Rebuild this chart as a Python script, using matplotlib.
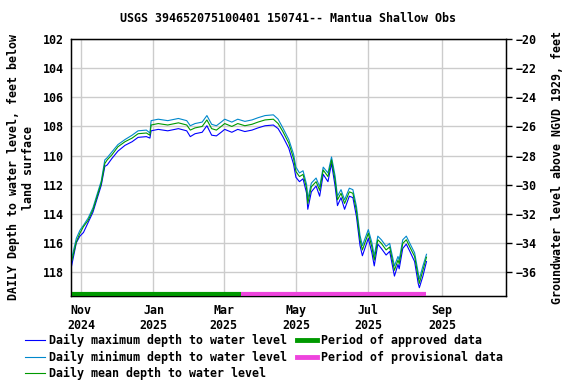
import matplotlib
matplotlib.use("Agg")
import matplotlib.pyplot as plt
import matplotlib.dates as mdates
from matplotlib.lines import Line2D
import pandas as pd

# 観測日（読み取り値）
dates = ["2024-10-24", "2024-10-28", "2024-10-31", "2024-11-03", "2024-11-07", "2024-11-11",
         "2024-11-14", "2024-11-18", "2024-11-21", "2024-11-23", "2024-11-27", "2024-12-02",
         "2024-12-08", "2024-12-14", "2024-12-19", "2024-12-26", "2024-12-29", "2024-12-30",
         "2025-01-05", "2025-01-13", "2025-01-22", "2025-01-29", "2025-02-01", "2025-02-05",
         "2025-02-11", "2025-02-15", "2025-02-19", "2025-02-23", "2025-02-27", "2025-03-02",
         "2025-03-08", "2025-03-13", "2025-03-19", "2025-03-25", "2025-03-30", "2025-04-05",
         "2025-04-12", "2025-04-16", "2025-04-20", "2025-04-25", "2025-04-29", "2025-05-01",
         "2025-05-04", "2025-05-07", "2025-05-10", "2025-05-11", "2025-05-14", "2025-05-18",
         "2025-05-21", "2025-05-24", "2025-05-28", "2025-05-31", "2025-06-03", "2025-06-05",
         "2025-06-08", "2025-06-11", "2025-06-15", "2025-06-18", "2025-06-21", "2025-06-24",
         "2025-06-26", "2025-07-01", "2025-07-04", "2025-07-06", "2025-07-09", "2025-07-12",
         "2025-07-16", "2025-07-19", "2025-07-23", "2025-07-26", "2025-07-27", "2025-07-30",
         "2025-08-02", "2025-08-05", "2025-08-09", "2025-08-12", "2025-08-13", "2025-08-16",
         "2025-08-19"]

depth_mean = [117.3, 115.95, 115.35, 114.9, 114.45, 113.75, 112.95, 111.9, 110.55, 110.3, 109.95, 109.4,
              109.05, 108.8, 108.5, 108.45, 108.6, 107.9, 107.8, 107.9, 107.75, 107.9, 108.25, 108.1,
              108.0, 107.55, 108.15, 108.25, 108.0, 107.8, 108.0, 107.8, 107.95, 107.85, 107.7, 107.55,
              107.5, 107.8, 108.35, 109.15, 110.2, 111.1, 111.45, 111.3, 112.25, 113.3, 112.15, 111.8,
              112.4, 111.0, 111.45, 110.3, 111.7, 113.05, 112.6, 113.3, 112.5, 112.6, 113.8, 115.8,
              116.5, 115.35, 116.3, 117.2, 115.8, 116.05, 116.5, 116.3, 117.9, 117.2, 117.45, 116.05,
              115.8, 116.3, 116.95, 118.35, 118.8, 117.9, 117.0]

depth_max = [117.6, 116.0, 115.55, 115.3, 114.6, 113.9, 113.1, 112.05, 110.75, 110.65, 110.2, 109.7,
             109.3, 109.05, 108.75, 108.7, 108.8, 108.3, 108.2, 108.3, 108.15, 108.3, 108.7, 108.5,
             108.4, 107.95, 108.6, 108.65, 108.4, 108.2, 108.4, 108.2, 108.35, 108.25, 108.1, 107.95,
             107.9, 108.15, 108.7, 109.5, 110.6, 111.5, 111.8, 111.6, 112.6, 113.7, 112.5, 112.1,
             112.8, 111.3, 111.8, 110.55, 112.1, 113.45, 112.9, 113.7, 112.8, 112.9, 114.2, 116.2,
             116.9, 115.7, 116.7, 117.6, 116.1, 116.4, 116.85, 116.6, 118.3, 117.5, 117.8, 116.4,
             116.1, 116.6, 117.3, 118.8, 119.1, 118.3, 117.3]

depth_min = [117.1, 115.7, 115.15, 114.8, 114.3, 113.6, 112.8, 111.75, 110.3, 110.15, 109.75, 109.25,
             108.9, 108.6, 108.3, 108.25, 108.45, 107.6, 107.5, 107.6, 107.45, 107.6, 107.95, 107.8,
             107.7, 107.25, 107.85, 107.95, 107.7, 107.5, 107.7, 107.5, 107.65, 107.55, 107.4, 107.25,
             107.2, 107.5, 108.1, 108.9, 109.9, 110.8, 111.2, 111.05, 112.0, 113.0, 111.9, 111.55,
             112.15, 110.8, 111.2, 110.1, 111.4, 112.8, 112.35, 113.05, 112.25, 112.35, 113.5, 115.5,
             116.2, 115.1, 116.0, 116.9, 115.55, 115.8, 116.25, 116.05, 117.6, 116.95, 117.2, 115.8,
             115.55, 116.05, 116.7, 118.05, 118.5, 117.6, 116.8]

approved_end = "2025-03-16"
land_surface = 82.0  # 深度 -> 標高の換算

def plot_gw():
    t = pd.to_datetime(dates)
    t_appr = pd.Timestamp(approved_end)

    font = {"family": "DejaVu Sans Mono", "weight": "bold", "size": 8.35}
    plt.rcParams["font.family"] = "DejaVu Sans Mono"
    plt.rcParams["font.weight"] = "bold"
    plt.rcParams["font.size"] = 8.35

    fig = plt.figure(figsize=(5.76, 3.84), dpi=100)
    ax = fig.add_axes([71/576, 1-295.7/384, (506-71)/576, (295.7-39.3)/384])

    ax.plot(t, depth_max, color="#0000ff", lw=0.8, zorder=3)
    ax.plot(t, depth_min, color="#0088cc", lw=0.8, zorder=3)
    ax.plot(t, depth_mean, color="#009900", lw=0.8, zorder=4)

    # 承認・暫定期間のバー
    ax.plot([t[0], t_appr], [119.5, 119.5], color="#009900", lw=3, solid_capstyle="butt", zorder=5)
    ax.plot([t_appr, t[-1]], [119.5, 119.5], color="#ee44dd", lw=3, solid_capstyle="butt", zorder=5)

    ax.set_ylim(119.65, 102.0)
    ax.set_yticks(range(102, 119, 2))
    ax.set_xlim(pd.Timestamp("2024-10-23 12:00"), pd.Timestamp("2025-10-25"))
    ax.xaxis.set_major_locator(mdates.MonthLocator(bymonth=[1, 3, 5, 7, 9, 11]))
    ax.xaxis.set_major_formatter(mdates.DateFormatter("%b\n%Y"))
    ax.grid(True, color="#cccccc", lw=1)
    ax.set_axisbelow(True)
    ax.tick_params(axis="x", length=0, pad=6)
    ax.tick_params(axis="y", length=0, pad=5)
    for s in ax.spines.values():
        s.set_linewidth(1)

    ax2 = ax.twinx()
    ax2.set_ylim(land_surface - 119.65, land_surface - 102.0)
    ax2.set_yticks(range(-20, -37, -2))
    ax2.tick_params(axis="y", length=4, width=1, pad=3)

    ax.set_ylabel("DAILY Depth to water level, feet below\nland surface", fontdict=font, labelpad=6)
    ax2.set_ylabel("Groundwater level above NGVD 1929, feet", fontdict=font, labelpad=10)
    fig.text(0.5, 1-19/384, "USGS 394652075100401 150741-- Mantua Shallow Obs",
             ha="center", va="center", **font)

    handles = [Line2D([], [], color="#0000ff", lw=0.8),
               Line2D([], [], color="#0088cc", lw=0.8),
               Line2D([], [], color="#009900", lw=0.8),
               Line2D([], [], color="#009900", lw=3.5),
               Line2D([], [], color="#ee44dd", lw=3.5)]
    labels = ["Daily maximum depth to water level",
              "Daily minimum depth to water level",
              "Daily mean depth to water level",
              "Period of approved data",
              "Period of provisional data"]
    fig.legend(handles, labels, loc="upper left", bbox_to_anchor=(25/576, 1-334/384),
               ncol=2, frameon=False, borderpad=0, borderaxespad=0, handlelength=1.75,
               handletextpad=0.35, columnspacing=0.8, labelspacing=0.3, prop=font)

    fig.savefig("out.png", dpi=100)

def main():
    plot_gw()

if __name__ == "__main__":
    main()
